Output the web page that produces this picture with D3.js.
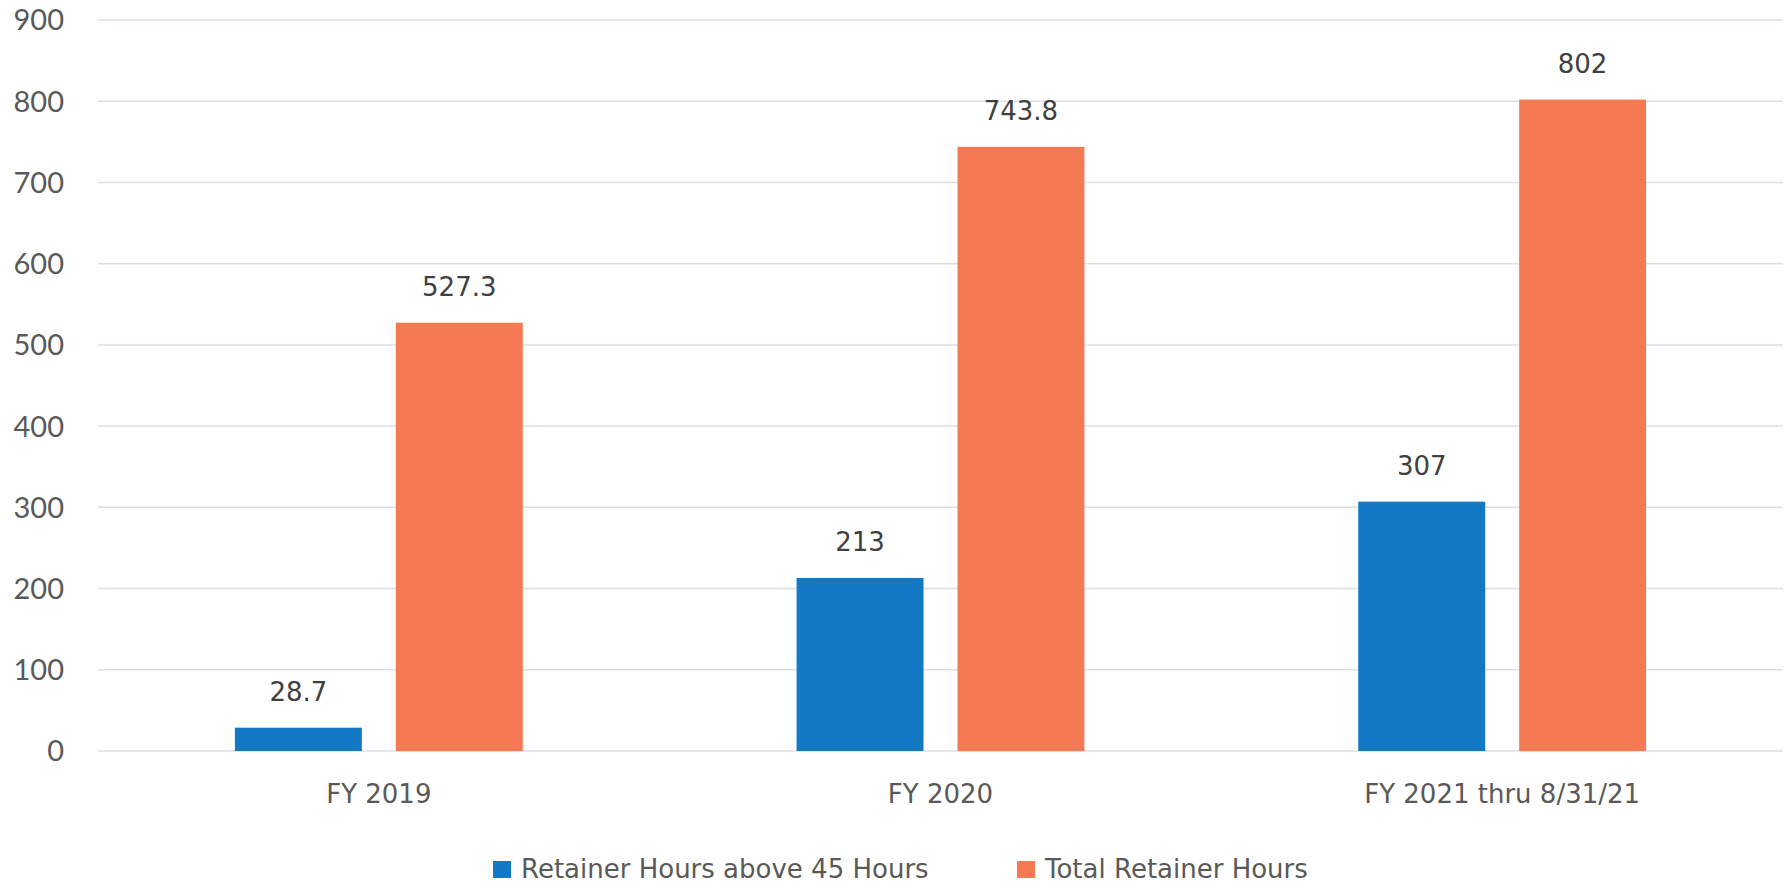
<!DOCTYPE html>
<html>
<head>
<meta charset="utf-8">
<script src="https://cdn.jsdelivr.net/npm/d3@7"></script>
<style>
  body { margin: 0; background: #fff; }
  text { font-family: "DejaVu Sans", sans-serif; fill: #595959; }
</style>
</head>
<body>
<div id="chart"></div>
<script>
// data
var categories = ["FY 2019", "FY 2020", "FY 2021 thru 8/31/21"];
var seriesNames = ["Retainer Hours above 45 Hours", "Total Retainer Hours"];
var above45 = [28.7, 213, 307];
var totalHours = [527.3, 743.8, 802];
var yTicks = [0, 100, 200, 300, 400, 500, 600, 700, 800, 900];
var colors = ["#1479c4", "#f47a53"];

var W = 1785, H = 885;
var margin = { top: 20, right: 2, bottom: 134, left: 98 };

var svg = d3.select("#chart").append("svg")
    .attr("width", W)
    .attr("height", H);

var x0 = d3.scaleBand()
    .domain(categories)
    .range([margin.left, W - margin.right])
    .paddingInner(0.4875)
    .paddingOuter(0.24375);

var x1 = d3.scaleBand()
    .domain(seriesNames)
    .range([0, x0.bandwidth()])
    .paddingInner(0.211);

var y = d3.scaleLinear()
    .domain([0, 900])
    .range([H - margin.bottom, margin.top]);

// gridlines
svg.append("g").selectAll("line")
    .data(yTicks)
    .enter().append("line")
    .attr("x1", margin.left)
    .attr("x2", W - margin.right)
    .attr("y1", d => y(d))
    .attr("y2", d => y(d))
    .attr("stroke", "#dedee8")
    .attr("stroke-width", 1.5);

// y tick labels
svg.append("g").selectAll("text")
    .data(yTicks)
    .enter().append("text")
    .attr("x", 64)
    .attr("y", d => y(d))
    .attr("dy", "0.36em")
    .attr("text-anchor", "end")
    .style("font-family", "Lato, sans-serif")
    .style("font-size", "29px")
    .text(d => d);

var rows = categories.map((c, i) => ({ cat: c, vals: [above45[i], totalHours[i]] }));

var groups = svg.append("g").selectAll("g")
    .data(rows)
    .enter().append("g")
    .attr("transform", d => "translate(" + x0(d.cat) + ",0)");

groups.selectAll("rect")
    .data(d => d.vals.map((v, j) => ({ s: seriesNames[j], v: v, j: j })))
    .enter().append("rect")
    .attr("x", d => x1(d.s))
    .attr("width", x1.bandwidth())
    .attr("y", d => y(d.v))
    .attr("height", d => y(0) - y(d.v))
    .attr("fill", d => colors[d.j]);

groups.selectAll("text.val")
    .data(d => d.vals.map((v, j) => ({ s: seriesNames[j], v: v })))
    .enter().append("text")
    .attr("class", "val")
    .attr("x", d => x1(d.s) + x1.bandwidth() / 2)
    .attr("y", d => y(d.v) - 27)
    .attr("text-anchor", "middle")
    .style("font-size", "26px")
    .style("fill", "#404040")
    .text(d => d.v);

// x labels
svg.append("g").selectAll("text")
    .data(categories)
    .enter().append("text")
    .attr("x", d => x0(d) + x0.bandwidth() / 2)
    .attr("y", 803)
    .attr("text-anchor", "middle")
    .style("font-size", "26px")
    .text(d => d);

// legend
var legendX = [493, 1017];
var legend = svg.append("g").selectAll("g")
    .data(seriesNames)
    .enter().append("g")
    .attr("transform", (d, i) => "translate(" + legendX[i] + ",0)");

legend.append("rect")
    .attr("x", 0)
    .attr("y", 861)
    .attr("width", 18)
    .attr("height", 17)
    .attr("fill", (d, i) => colors[i]);

legend.append("text")
    .attr("x", 28)
    .attr("y", 878)
    .style("font-size", "26px")
    .text(d => d);
</script>
</body>
</html>
